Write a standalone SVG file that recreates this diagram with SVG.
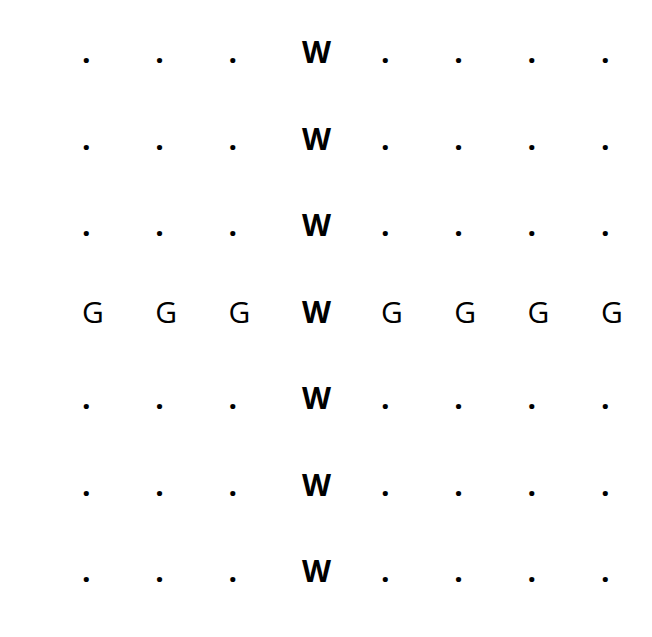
<svg xmlns="http://www.w3.org/2000/svg" width="652" height="637" viewBox="0 0 652 637">
<style>
text{font-family:"Open Sans","Noto Sans","DejaVu Sans",sans-serif;font-size:30px;fill:#000;font-weight:500}
.d{font-weight:bold}
.w{font-weight:bold}
</style>
<rect width="652" height="637" fill="#fff"/>
<g id="row0">
<text class="d" x="82" y="63">.</text><text class="d" x="155.3" y="63">.</text><text class="d" x="228.6" y="63">.</text><text class="w" x="302" y="63">W</text><text class="d" x="381" y="63">.</text><text class="d" x="454.3" y="63">.</text><text class="d" x="527.6" y="63">.</text><text class="d" x="601" y="63">.</text>
</g>
<g id="row1">
<text class="d" x="82" y="149.5">.</text><text class="d" x="155.3" y="149.5">.</text><text class="d" x="228.6" y="149.5">.</text><text class="w" x="302" y="149.5">W</text><text class="d" x="381" y="149.5">.</text><text class="d" x="454.3" y="149.5">.</text><text class="d" x="527.6" y="149.5">.</text><text class="d" x="601" y="149.5">.</text>
</g>
<g id="row2">
<text class="d" x="82" y="236">.</text><text class="d" x="155.3" y="236">.</text><text class="d" x="228.6" y="236">.</text><text class="w" x="302" y="236">W</text><text class="d" x="381" y="236">.</text><text class="d" x="454.3" y="236">.</text><text class="d" x="527.6" y="236">.</text><text class="d" x="601" y="236">.</text>
</g>
<g id="row3">
<text x="82" y="322.5">G</text><text x="155.3" y="322.5">G</text><text x="228.6" y="322.5">G</text><text class="w" x="302" y="322.5">W</text><text x="381" y="322.5">G</text><text x="454.3" y="322.5">G</text><text x="527.6" y="322.5">G</text><text x="601" y="322.5">G</text>
</g>
<g id="row4">
<text class="d" x="82" y="409">.</text><text class="d" x="155.3" y="409">.</text><text class="d" x="228.6" y="409">.</text><text class="w" x="302" y="409">W</text><text class="d" x="381" y="409">.</text><text class="d" x="454.3" y="409">.</text><text class="d" x="527.6" y="409">.</text><text class="d" x="601" y="409">.</text>
</g>
<g id="row5">
<text class="d" x="82" y="495.5">.</text><text class="d" x="155.3" y="495.5">.</text><text class="d" x="228.6" y="495.5">.</text><text class="w" x="302" y="495.5">W</text><text class="d" x="381" y="495.5">.</text><text class="d" x="454.3" y="495.5">.</text><text class="d" x="527.6" y="495.5">.</text><text class="d" x="601" y="495.5">.</text>
</g>
<g id="row6">
<text class="d" x="82" y="582">.</text><text class="d" x="155.3" y="582">.</text><text class="d" x="228.6" y="582">.</text><text class="w" x="302" y="582">W</text><text class="d" x="381" y="582">.</text><text class="d" x="454.3" y="582">.</text><text class="d" x="527.6" y="582">.</text><text class="d" x="601" y="582">.</text>
</g>
<g id="connectors"/>
</svg>
